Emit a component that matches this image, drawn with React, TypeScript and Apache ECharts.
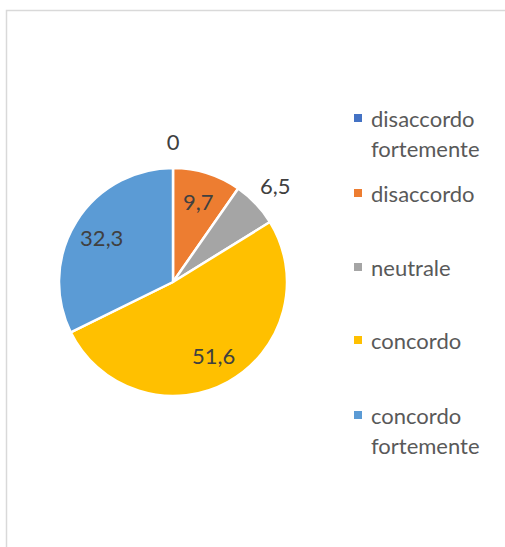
import React, { useEffect, useRef } from "react";
import * as echarts from "echarts";

const categories = [
  "disaccordo fortemente",
  "disaccordo",
  "neutrale",
  "concordo",
  "concordo fortemente",
];
const values = [0, 9.7, 6.5, 51.6, 32.3];
const colors = ["#4472C4", "#ED7D31", "#A5A5A5", "#FFC000", "#5B9BD5"];
const outsideLabelNames = ["disaccordo fortemente", "neutrale"];

const FONT = "Lato, 'Open Sans', sans-serif";
const fmt = (v: number) => String(v).replace(".", ",");

export default function App() {
  const ref = useRef<HTMLDivElement>(null);
  useEffect(() => {
    if (!ref.current) return;
    const chart = echarts.init(ref.current, null, { renderer: "svg" });
    const center = [173, 282];
    const R = 114;

    const labelBase = {
      position: "inside",
      formatter: (p: any) => fmt(p.value),
      color: "#404040",
      fontFamily: FONT,
      fontSize: 22,
    };

    const visibleData = categories.map((name, i) => ({
      name,
      value: values[i],
      itemStyle: { color: colors[i] },
    }));
    const innerLabelData = categories.map((name, i) => ({
      name,
      value: values[i],
      label: { show: !outsideLabelNames.includes(name) },
    }));
    const outerLabelData = categories.map((name, i) => ({
      name,
      value: values[i],
      label: { show: outsideLabelNames.includes(name) },
    }));

    const twoLine = (name: string) => name.indexOf(" fortemente") >= 0;
    const legendTops = [103, 178, 252, 325, 400];
    const legends = categories.map((name, i) => {
      const tl = twoLine(name);
      return {
        show: true,
        orient: "vertical",
        left: 354,
        top: legendTops[i],
        padding: 0,
        itemWidth: 12,
        itemHeight: tl ? 38 : 8,
        icon: tl
          ? "path://M0,0L8,0L8,8L0,8Z M12,38L12.01,38"
          : "path://M0,0L8,0L8,8L0,8Z M12,0L12.01,0",
        selectedMode: false,
        formatter: (n: string) => n.replace(" fortemente", "\nfortemente"),
        textStyle: {
          color: "#595959",
          fontFamily: FONT,
          fontSize: 22,
          lineHeight: 30,
        },
        data: [
          {
            name,
            itemStyle: { color: colors[i], borderWidth: 0 },
          },
        ],
      };
    });

    chart.setOption({
      animation: false,
      backgroundColor: "#ffffff",
      graphic: [
        {
          type: "rect",
          shape: { x: 6.5, y: 10.5, width: 530, height: 560 },
          style: { fill: "none", stroke: "#d9d9d9", lineWidth: 1.5 },
          silent: true,
        },
      ],
      legend: legends,
      series: [
        {
          type: "pie",
          center,
          radius: [0, R],
          startAngle: 90,
          clockwise: true,
          silent: true,
          label: { show: false },
          labelLine: { show: false },
          itemStyle: { borderColor: "#ffffff", borderWidth: 2.5 },
          emphasis: { disabled: true },
          data: visibleData,
        },
        {
          type: "pie",
          center,
          radius: [0, R * 1.42],
          startAngle: 90,
          clockwise: true,
          silent: true,
          z: 3,
          label: labelBase,
          labelLine: { show: false },
          itemStyle: { color: "transparent", borderWidth: 0 },
          emphasis: { disabled: true },
          data: innerLabelData,
        },
        {
          type: "pie",
          center,
          radius: [0, R * 2.42],
          startAngle: 90,
          clockwise: true,
          silent: true,
          z: 3,
          label: labelBase,
          labelLine: { show: false },
          itemStyle: { color: "transparent", borderWidth: 0 },
          emphasis: { disabled: true },
          data: outerLabelData,
        },
      ],
    });
    return () => chart.dispose();
  }, []);

  return (
    <div
      ref={ref}
      style={{ position: "fixed", left: 0, top: 0, width: 505, height: 547 }}
    />
  );
}
